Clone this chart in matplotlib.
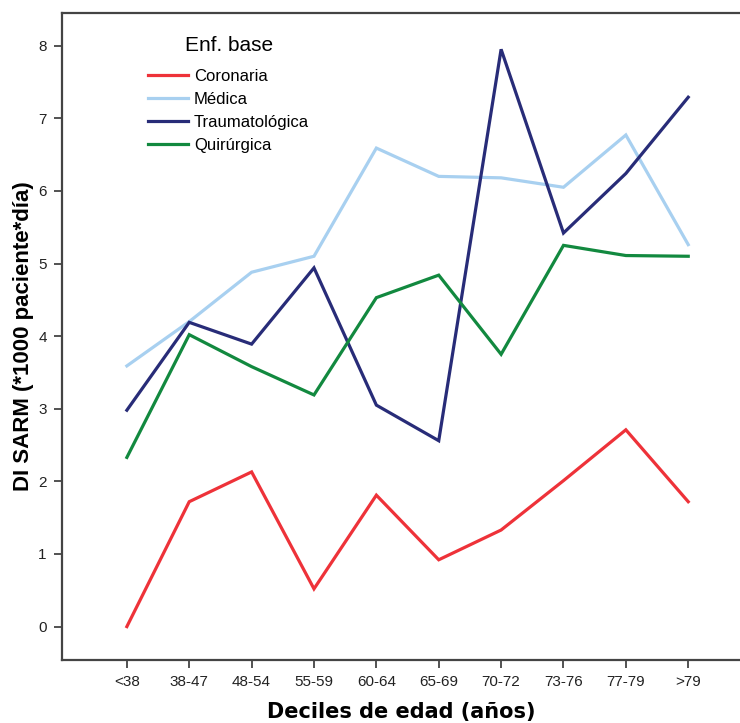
import matplotlib
matplotlib.use("Agg")
import matplotlib.pyplot as plt

plt.rcParams['font.family'] = ['Liberation Sans', 'DejaVu Sans']

deciles = ['<38', '38-47', '48-54', '55-59', '60-64', '65-69', '70-72', '73-76', '77-79', '>79']

coronaria = [0.0, 1.72, 2.13, 0.52, 1.81, 0.92, 1.33, 2.01, 2.71, 1.72]
medica = [3.59, 4.20, 4.88, 5.10, 6.59, 6.20, 6.18, 6.05, 6.77, 5.26]
traumatologica = [2.98, 4.19, 3.89, 4.94, 3.05, 2.56, 7.95, 5.42, 6.24, 7.29]
quirurgica = [2.33, 4.02, 3.58, 3.19, 4.53, 4.84, 3.75, 5.25, 5.11, 5.10]

series_names = ['Coronaria', 'Médica', 'Traumatológica', 'Quirúrgica']
series_values = [coronaria, medica, traumatologica, quirurgica]
series_colors = ['#EE3239', '#A8D0F0', '#282C78', '#12893F']

fig = plt.figure(figsize=(7.40, 7.23), dpi=100)
ax = fig.add_axes([62 / 740, 1 - 660 / 723, 1 - 62 / 740, 647 / 723])

x = list(range(len(deciles)))
for name, vals, col in zip(series_names, series_values, series_colors):
    ax.plot(x, vals, color=col, lw=2.3, label=name, solid_joinstyle='miter')

ax.set_xlim(-1.04, 9.83)
ax.set_ylim(-0.46, 8.45)
ax.set_xticks(x)
ax.set_xticklabels(deciles)
ax.set_yticks(range(0, 9))

for side in ['top', 'left', 'bottom']:
    ax.spines[side].set_color('#444444')
    ax.spines[side].set_linewidth(1.6)
ax.spines['right'].set_visible(False)

ax.tick_params(axis='both', direction='out', length=6, width=1.3, color='#444444',
               labelsize=11, labelcolor='#222222', pad=5)

ax.set_xlabel('Deciles de edad (años)', fontsize=15, fontweight='bold',
              family=['DejaVu Sans'], labelpad=9)
ax.set_ylabel('DI SARM (*1000 paciente*día)', fontsize=16, fontweight='bold', labelpad=3)

leg = ax.legend(loc='upper left', bbox_to_anchor=(0.127, 0.964), frameon=False,
                title='Enf. base', title_fontsize=15, fontsize=12,
                handlelength=2.4, handletextpad=0.35, labelspacing=0.48,
                borderpad=0, borderaxespad=0)
leg._legend_box.sep = 10

fig.savefig('out.png', dpi=100)
